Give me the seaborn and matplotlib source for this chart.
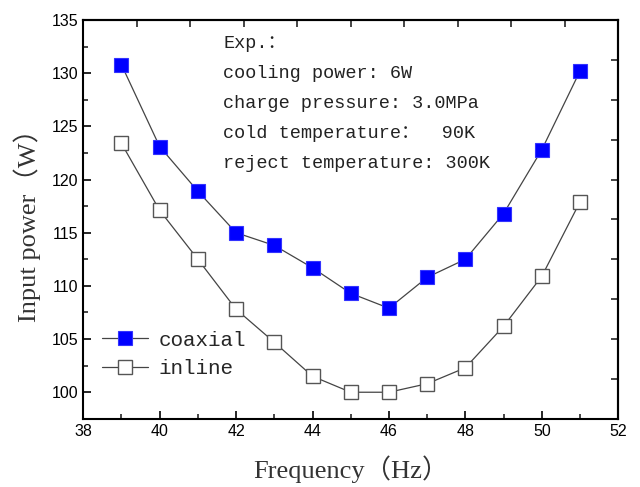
import numpy as np
import pandas as pd
import matplotlib
matplotlib.use("Agg")
import matplotlib.pyplot as plt
import seaborn as sns

# data
freq = [39, 40, 41, 42, 43, 44, 45, 46, 47, 48, 49, 50, 51]
coaxial = [130.8, 123.1, 118.9, 115.0, 113.8, 111.7, 109.3, 107.9, 110.8, 112.5, 116.8, 122.8, 130.2]
inline = [123.4, 117.1, 112.5, 107.8, 104.7, 101.5, 100.0, 100.0, 100.8, 102.3, 106.2, 110.9, 117.9]
notes = ["Exp.：", "cooling power: 6W", "charge pressure: 3.0MPa",
         "cold temperature：  90K", "reject temperature: 300K"]

df = pd.DataFrame({"freq": freq, "coaxial": coaxial, "inline": inline})

sns.set_style("ticks")
plt.rcParams["font.family"] = ["Liberation Sans", "DejaVu Sans"]
plt.rcParams["xtick.direction"] = "in"
plt.rcParams["ytick.direction"] = "in"

fig, ax = plt.subplots(figsize=(6.4, 4.87), dpi=100)
fig.subplots_adjust(left=0.13, right=0.966, top=0.959, bottom=0.14)

sns.lineplot(data=df, x="freq", y="coaxial", ax=ax, color="#444444", lw=0.9,
             marker="s", markersize=9.5, markerfacecolor="#0000ff",
             markeredgecolor="#3333ff", markeredgewidth=0.8, label="coaxial")
sns.lineplot(data=df, x="freq", y="inline", ax=ax, color="#444444", lw=0.9,
             marker="s", markersize=9.5, markerfacecolor="white",
             markeredgecolor="#555555", markeredgewidth=1.0, label="inline")

ax.set_xlim(38, 52)
ax.set_ylim(97.5, 135)
ax.set_xticks(np.arange(38, 53, 2))
ax.set_xticks(np.arange(39, 52, 2), minor=True)
ax.set_yticks(np.arange(100, 136, 5))
ax.set_yticks(np.arange(97.5, 135, 5), minor=True)
ax.tick_params(which="major", length=6, width=1.2, labelsize=11.5, colors="black")
ax.tick_params(which="minor", length=3.5, width=1.2)

# top / right axes with their own 10 divisions
top = ax.secondary_xaxis("top")
top.set_xticks(np.linspace(38, 52, 11)[1:-1])
top.set_xticklabels([])
top.tick_params(direction="in", length=5, width=1.2)
right = ax.secondary_yaxis("right")
right.set_yticks(np.linspace(97.5, 135, 11)[1:-1])
right.set_yticklabels([])
right.tick_params(direction="in", length=5, width=1.2)

for sp in list(ax.spines.values()) + [top.spines["top"], right.spines["right"]]:
    sp.set_linewidth(1.5)
    sp.set_color("black")
    sp.set_visible(True)

ax.set_xlabel("Frequency（Hz）", family=["Liberation Serif", "Noto Sans CJK SC"],
              fontsize=19, color="#333333", labelpad=12)
ax.set_ylabel("Input power（W）", family=["Liberation Serif", "Noto Sans CJK SC"],
              fontsize=19, color="#333333", labelpad=8)

for i, line in enumerate(notes):
    ax.text(0.262, 0.94 - i * 0.0752, line, transform=ax.transAxes,
            family=["Liberation Mono", "Noto Sans CJK SC"], fontsize=13.3,
            color="#222222", va="center", ha="left")

leg = ax.legend(loc="lower left", bbox_to_anchor=(0.0, 0.055), frameon=False,
                prop={"family": "Liberation Mono", "size": 15},
                handlelength=2.2, labelspacing=0.45, handletextpad=0.5)

fig.savefig("out.png", dpi=100)
